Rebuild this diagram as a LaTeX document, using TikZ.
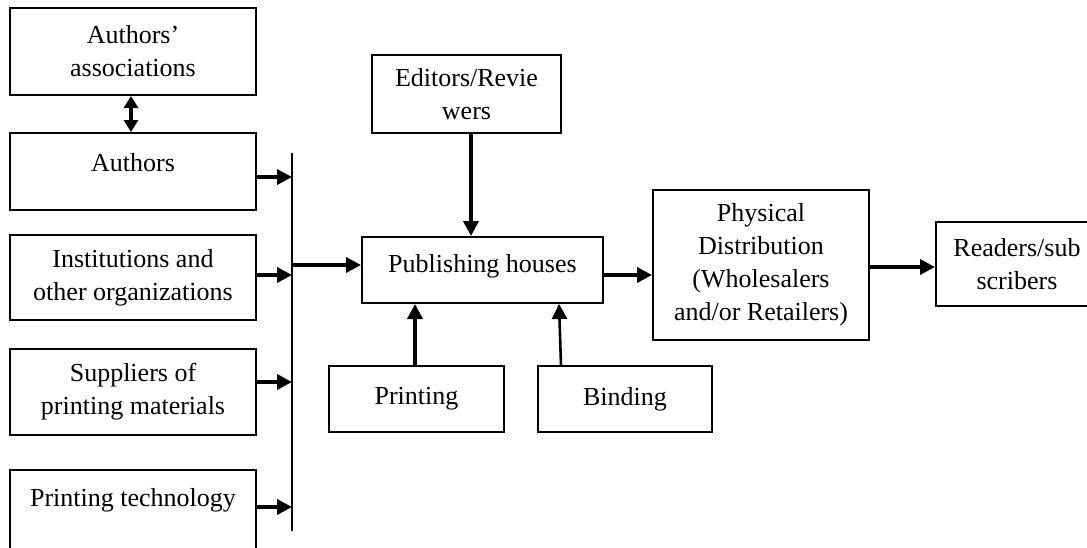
\documentclass[tikz,border=0pt]{standalone}
\usepackage{fontspec}
\setmainfont{Liberation Serif}
\usetikzlibrary{arrows.meta,calc}
\begin{document}
\begin{tikzpicture}[x=1pt,y=-1pt,
  box/.style={draw,line width=2pt,rectangle,align=center,inner sep=0pt,
    font=\fontsize{26}{33}\selectfont},
  arr/.style={line width=3.6pt,-{Triangle[length=15pt,width=15pt]}},
  darr/.style={line width=3.6pt,{Triangle[length=12pt,width=14pt]}-{Triangle[length=12pt,width=14pt]}},
  busline/.style={line width=2.2pt}]
\useasboundingbox[fill=white] (0,0) rectangle (1087,547);
% left column
\node[box,minimum width=246pt,minimum height=87pt] (assoc) at (133,51.5) {Authors’\\associations};
\node[box,minimum width=246pt,minimum height=77pt,text depth=18pt] (authors) at (133,171.5) {Authors};
\node[box,minimum width=246pt,minimum height=85pt] (inst) at (133,277.5) {Institutions and\\other organizations};
\node[box,minimum width=246pt,minimum height=86pt] (supp) at (133,392) {Suppliers of\\printing materials};
\node[box,minimum width=246pt,minimum height=100pt,text depth=46pt] (tech) at (133,520) {Printing technology};
% bus
\coordinate (bustop) at (292,153);
\coordinate (busbot) at (292,531);
\coordinate (b1) at (292,177);
\coordinate (b2) at (292,275);
\coordinate (b3) at (292,382);
\coordinate (b4) at (292,507);
\coordinate (bout) at (292,265);
\draw[busline] (bustop) -- (busbot);
% middle
\node[box,minimum width=241pt,minimum height=66pt,text depth=14pt] (ph) at (482.5,270) {Publishing houses};
\node[box,minimum width=189pt,minimum height=78pt] (ed) at (466.5,94) {Editors/Revie\\wers};
\node[box,minimum width=175pt,minimum height=66pt] (print) at (416.5,399) {Printing};
\node[box,minimum width=174pt,minimum height=66pt] (bind) at (625,399) {Binding};
\node[box,minimum width=216pt,minimum height=150pt] (pd) at (761,265) {Physical\\Distribution\\(Wholesalers\\and/or Retailers)};
\node[box,minimum width=162pt,minimum height=84pt] (read) at (1017,264) {Readers/sub\\scribers};
% arrows
\draw[darr] ($(assoc.south)+(-2,0)$) -- ($(authors.north)+(-2,0)$);
\draw[arr] (authors.east |- b1) -- (b1);
\draw[arr] (inst.east |- b2) -- (b2);
\draw[arr] (supp.east |- b3) -- (b3);
\draw[arr] (tech.east |- b4) -- (b4);
\draw[arr] (bout) -- (ph.west |- bout);
\draw[arr] (ed.south -| 471,0) -- (ph.north -| 471,0);
\draw[arr] (print.north -| 415,0) -- (ph.south -| 415,0);
\draw[arr,line width=2.6pt] (bind.north -| 561,0) -- (ph.south -| 559,0);
\draw[arr] (ph.east |- 0,275) -- (pd.west |- 0,275);
\draw[arr] (pd.east |- 0,267) -- (read.west |- 0,267);
\end{tikzpicture}
\end{document}
